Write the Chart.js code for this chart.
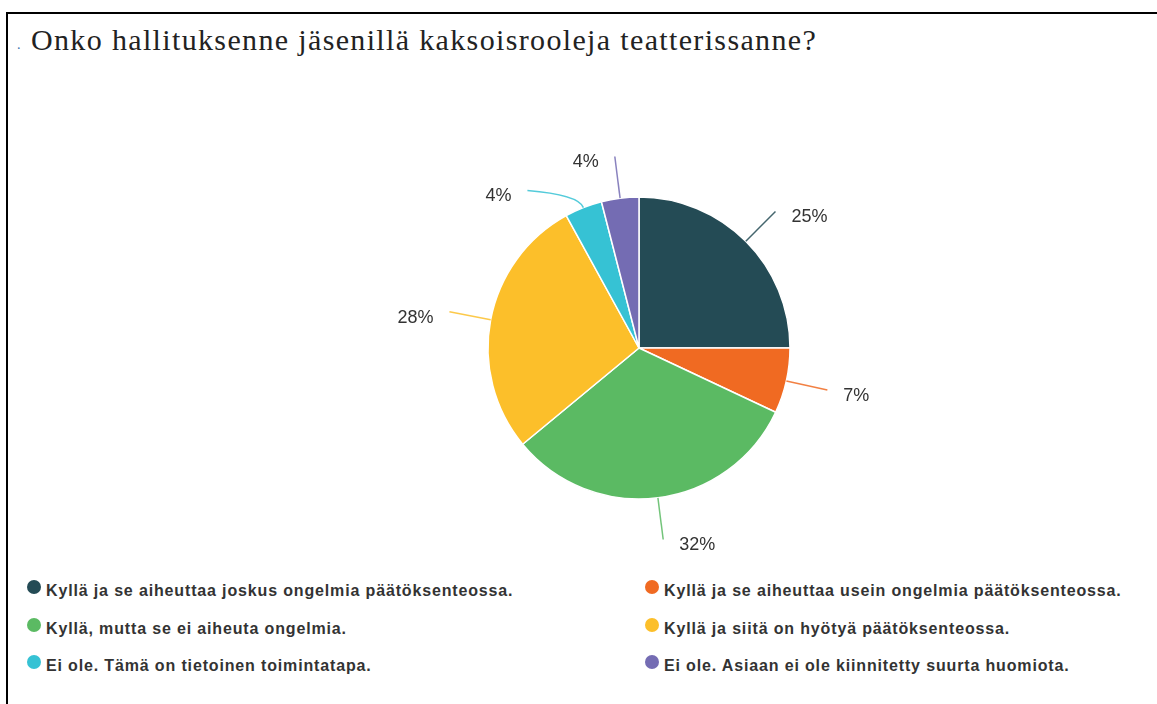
<!DOCTYPE html>
<html>
<head>
<meta charset="utf-8">
<script src="https://cdn.jsdelivr.net/npm/chart.js@4.4.1/dist/chart.umd.min.js"></script>
<style>
  body { margin: 0; width: 1157px; height: 704px; background: #fff; position: relative; overflow: hidden; font-family: "Liberation Sans", Arial, sans-serif; }
  .frame { position: absolute; left: 6px; top: 12px; right: -2px; bottom: -2px; border-top: 2px solid #000; border-left: 2px solid #000; }
  h1 { position: absolute; left: 31px; top: 23px; margin: 0; font: normal 30px "Liberation Serif", "Times New Roman", serif; letter-spacing: 1.35px; color: #222; white-space: nowrap; }
  h1 .dot { position: absolute; left: -14px; top: 2px; color: #3a6fb0; font-size: 14px; line-height: 40px; letter-spacing: 0; }
  #wrap { position: absolute; left: 380px; top: 130px; width: 520px; height: 440px; }
  #legend { position: absolute; left: 27px; top: 579px; display: grid; grid-template-columns: 618px 500px; grid-auto-rows: 37.5px; }
  .item { display: flex; align-items: flex-start; font-weight: bold; font-size: 16px; letter-spacing: 0.85px; line-height: 24px; color: #333; white-space: nowrap; }
  .item i { display: inline-block; width: 14px; height: 14px; border-radius: 50%; margin: 1px 5px 0 0; }
</style>
</head>
<body>
<div class="frame"></div>
<h1><span class="dot">.</span>Onko hallituksenne jäsenillä kaksoisrooleja teatterissanne?</h1>
<div id="wrap"><canvas id="pie"></canvas></div>
<div id="legend"></div>

<script>
const answers = [
  'Kyllä ja se aiheuttaa joskus ongelmia päätöksenteossa.',
  'Kyllä ja se aiheuttaa usein ongelmia päätöksenteossa.',
  'Kyllä, mutta se ei aiheuta ongelmia.',
  'Kyllä ja siitä on hyötyä päätöksenteossa.',
  'Ei ole. Tämä on tietoinen toimintatapa.',
  'Ei ole. Asiaan ei ole kiinnitetty suurta huomiota.',
]
const shares = [25, 7, 32, 28, 4, 4]
const colors = ['#244b55', '#f06a22', '#5bba63', '#fcbf2a', '#36c2d4', '#746cb3']

// percentage labels sitting at the end of a curved leader line
const leaderLabels = {
  id: 'leaderLabels',
  afterDatasetsDraw(chart) {
    const ctx = chart.ctx
    const arcs = chart.getDatasetMeta(0).data
    if (!arcs.length) return
    const cx = arcs[0].x, cy = arcs[0].y, r = arcs[0].outerRadius
    const reach = r + 42

    const items = arcs.map((arc, i) => {
      const mid = (arc.startAngle + arc.endAngle) / 2
      const dx = Math.cos(mid), dy = Math.sin(mid)
      return {
        i, dx, dy,
        side: dx < 0 ? -1 : 1,
        sx: cx + r * dx, sy: cy + r * dy,
        qx: cx + (r + 14) * dx, qy: cy + (r + 14) * dy,
        ex: cx + reach * dx, ey: cy + reach * dy,
      }
    })

    // keep labels on each side from crowding each other
    ;[-1, 1].forEach(side => {
      const list = items.filter(o => o.side === side).sort((a, b) => a.ey - b.ey)
      for (let k = 1; k < list.length; k++) {
        if (list[k].ey - list[k - 1].ey < 34) {
          list[k].ey = list[k - 1].ey + 34
          const h = list[k].ey - cy
          list[k].ex = cx + side * Math.sqrt(Math.max(reach * reach - h * h, 0))
        }
      }
    })

    ctx.save()
    items.forEach(o => {
      ctx.beginPath()
      ctx.moveTo(o.sx, o.sy)
      ctx.quadraticCurveTo(o.qx, o.qy, o.ex, o.ey)
      ctx.strokeStyle = colors[o.i]
      ctx.globalAlpha = 0.85
      ctx.lineWidth = 1.5
      ctx.stroke()
      ctx.globalAlpha = 1

      ctx.font = '18px "Liberation Sans", Arial, sans-serif'
      ctx.fillStyle = '#333'
      ctx.textBaseline = 'middle'
      ctx.textAlign = o.side < 0 ? 'right' : 'left'
      ctx.fillText(shares[o.i] + '%', o.ex + o.side * 16, o.ey + 6)
    })
    ctx.restore()
  }
}

// two-column legend built from the chart's own label list
const htmlLegend = {
  id: 'htmlLegend',
  afterUpdate(chart) {
    const box = document.getElementById('legend')
    box.innerHTML = ''
    const items = chart.options.plugins.legend.labels.generateLabels(chart)
    items.forEach(item => {
      const row = document.createElement('div')
      row.className = 'item'
      const dot = document.createElement('i')
      dot.style.background = item.fillStyle
      row.appendChild(dot)
      row.appendChild(document.createTextNode(item.text))
      box.appendChild(row)
    })
  }
}

const ctx = document.getElementById('pie').getContext('2d')

const pieChart = new Chart(ctx, {
  type: 'pie',
  data: {
    labels: answers,
    datasets: [{
      data: shares,
      backgroundColor: colors,
      borderColor: '#ffffff',
      borderWidth: 1.5,
    }],
  },
  options: {
    responsive: true,
    maintainAspectRatio: false,
    animation: false,
    radius: 151,
    layout: {
      padding: { left: 108, right: 110, top: 67, bottom: 71 }
    },
    plugins: {
      legend: { display: false },
      tooltip: { enabled: false },
    },
  },
  plugins: [leaderLabels, htmlLegend],
})
</script>
</body>
</html>
